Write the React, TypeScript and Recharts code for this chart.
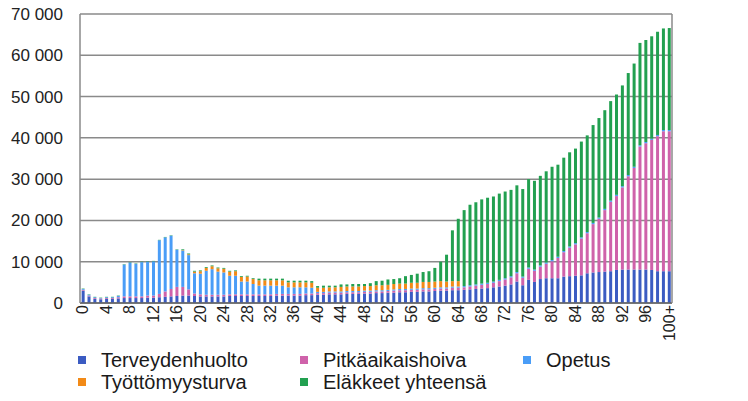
import React from "react";
import { Bar, BarChart, CartesianGrid, Legend, XAxis, YAxis } from "recharts";

// ikäryhmät 0–99 ja 100+
const ages: string[] = Array.from({ length: 100 }, (_, i) => String(i)).concat("100+");

const terveydenhuolto = [
  3000, 1600, 1000, 900, 1000, 1000, 1100, 1200, 1200, 1200,
  1200, 1300, 1300, 1400, 1500, 1600, 1700, 1800, 1800, 1700,
  1600, 1600, 1600, 1600, 1600, 1700, 1700, 1700, 1700, 1700,
  1700, 1700, 1700, 1800, 1800, 1800, 1800, 1800, 1900, 1900,
  2000, 2000, 2100, 2100, 2100, 2200, 2200, 2200, 2300, 2300,
  2400, 2400, 2500, 2500, 2600, 2600, 2700, 2700, 2800, 2800,
  2900, 3000, 3000, 3100, 3100, 3200, 3300, 3400, 3500, 3600,
  3800, 4000, 4200, 4500, 5200, 4300, 5600, 5100, 5800, 6000,
  6000, 6000, 6400, 6500, 6600, 6700, 7200, 7400, 7500, 7600,
  7700, 8000, 8100, 8100, 8100, 8100, 8100, 8000, 7700, 7700, 7700,
];

const pitkaaikaishoiva = [
  200, 200, 200, 200, 200, 200, 300, 400, 400, 400,
  400, 500, 500, 800, 1300, 1800, 2200, 2100, 1500, 600,
  500, 400, 400, 400, 400, 400, 400, 400, 400, 400,
  400, 400, 400, 400, 400, 400, 400, 400, 400, 400,
  400, 400, 400, 400, 400, 400, 400, 400, 400, 400,
  400, 400, 400, 500, 500, 500, 500, 500, 500, 500,
  500, 500, 500, 600, 600, 600, 700, 800, 900, 1000,
  1100, 1300, 1500, 1700, 2000, 1800, 2700, 2700, 3000, 3500,
  4100, 4900, 5900, 6900, 7600, 8900, 9700, 11700, 12900, 14900,
  16800, 17900, 19900, 22600, 24600, 29800, 30600, 31500, 32700, 33900, 33900,
];

const opetus = [
  200, 200, 200, 100, 200, 200, 300, 7700, 8200, 7900,
  8300, 8200, 8300, 13000, 13100, 12900, 9000, 8800, 8300, 4900,
  5000, 5800, 6200, 5600, 5400, 4500, 4500, 3100, 3100, 2500,
  2100, 2100, 2100, 2000, 2000, 1600, 1600, 1600, 1500, 1400,
  300, 300, 300, 300, 300, 300, 300, 300, 300, 300,
  300, 300, 300, 300, 300, 300, 300, 300, 300, 300,
  300, 300, 300, 300, 300, 300, 300, 300, 300, 300,
  300, 300, 300, 300, 300, 300, 300, 300, 300, 300,
  300, 300, 300, 300, 300, 300, 300, 300, 300, 300,
  300, 300, 300, 300, 300, 300, 300, 300, 300, 300, 300,
];

const tyottomyysturva = [
  0, 0, 0, 0, 0, 0, 0, 0, 0, 0,
  0, 0, 0, 0, 0, 0, 0, 100, 200, 400,
  600, 700, 700, 800, 900, 1000, 1100, 1100, 1200, 1200,
  1300, 1300, 1300, 1300, 1300, 1200, 1200, 1200, 1200, 1200,
  1000, 1000, 1000, 1000, 1100, 1100, 1100, 1100, 1100, 1100,
  1200, 1200, 1200, 1300, 1300, 1300, 1400, 1400, 1500, 1500,
  1500, 1500, 1400, 1300, 1300, 0, 0, 0, 0, 0,
  0, 0, 0, 0, 0, 0, 0, 0, 0, 0,
  0, 0, 0, 0, 0, 0, 0, 0, 0, 0,
  0, 0, 0, 0, 0, 0, 0, 0, 0, 0, 0,
];

const elakkeet = [
  100, 100, 100, 100, 100, 100, 100, 100, 100, 100,
  100, 100, 100, 100, 100, 100, 100, 200, 200, 200,
  200, 200, 200, 200, 200, 200, 200, 200, 200, 200,
  400, 400, 400, 400, 400, 400, 400, 400, 400, 400,
  400, 500, 400, 400, 600, 500, 600, 600, 500, 700,
  1000, 1100, 1300, 1200, 1300, 1800, 1900, 2200, 2400, 2600,
  3300, 4700, 6500, 12300, 15100, 18400, 19500, 19900, 20400, 20600,
  20600, 20900, 21000, 20900, 21000, 21200, 21400, 21500, 21700, 22100,
  22600, 22300, 22600, 22800, 22900, 23200, 23400, 23700, 24100, 23900,
  24100, 24300, 24400, 24700, 25000, 24800, 24700, 24800, 25000, 24600, 24700,
];

const yTicks = [0, 10000, 20000, 30000, 40000, 50000, 60000, 70000];

const series = [
  { key: "terveydenhuolto", name: "Terveydenhuolto", color: "#3b5bc2" },
  { key: "pitkaaikaishoiva", name: "Pitkäaikaishoiva", color: "#cf62aa" },
  { key: "opetus", name: "Opetus", color: "#4a9df7" },
  { key: "tyottomyysturva", name: "Työttömyysturva", color: "#f28a17" },
  { key: "elakkeet", name: "Eläkkeet yhteensä", color: "#22a050" },
];

const data = ages.map((age, i) => ({
  age,
  terveydenhuolto: terveydenhuolto[i],
  pitkaaikaishoiva: pitkaaikaishoiva[i],
  opetus: opetus[i],
  tyottomyysturva: tyottomyysturva[i],
  elakkeet: elakkeet[i],
}));

const FONT = "'Liberation Sans', Arial, sans-serif";

const formatThousands = (v: number) => String(v).replace(/\B(?=(\d{3})+(?!\d))/g, " ");

const XTick = ({ x, y, payload }: any) => (
  <text
    x={x}
    y={y - 6}
    transform={`rotate(-90 ${x} ${y - 6})`}
    textAnchor="end"
    dominantBaseline="central"
    fontSize={16}
    fontFamily={FONT}
    fill="#222"
  >
    {payload.value}
  </text>
);

// selite kahdessa rivissä, kolme saraketta
const legendPos = [
  { left: 78, top: 8 },
  { left: 300, top: 8 },
  { left: 523, top: 8 },
  { left: 78, top: 30 },
  { left: 300, top: 30 },
];

const LegendContent = () => (
  <div style={{ position: "relative", width: 748, height: 53, fontFamily: FONT }}>
    {series.map((s, i) => (
      <div
        key={s.key}
        style={{
          position: "absolute",
          left: legendPos[i].left,
          top: legendPos[i].top,
          height: 8,
          display: "flex",
          alignItems: "center",
          whiteSpace: "nowrap",
        }}
      >
        <span style={{ width: 8, height: 8, background: s.color, display: "inline-block" }} />
        <span style={{ marginLeft: 15, fontSize: 20, color: "#1a1a1a", lineHeight: "8px" }}>{s.name}</span>
      </div>
    ))}
  </div>
);

export default function App() {
  return (
    <div style={{ position: "absolute", left: 0, top: 0, width: 748, height: 401, background: "#fff" }}>
      <BarChart
        width={748}
        height={401}
        data={data}
        margin={{ top: 14, right: 0, left: 0, bottom: 0 }}
        barCategoryGap="28%"
      >
        <CartesianGrid yAxisId="left" vertical={false} stroke="#8a8a8a" strokeWidth={1.5} />
        <XAxis
          dataKey="age"
          interval={3}
          tickLine={false}
          axisLine={{ stroke: "#666", strokeWidth: 1.5 }}
          height={45}
          tick={<XTick />}
        />
        <YAxis
          yAxisId="left"
          width={80}
          domain={[0, 70000]}
          ticks={yTicks}
          tickFormatter={formatThousands}
          tickLine={false}
          tickMargin={11}
          axisLine={{ stroke: "#8a8a8a", strokeWidth: 1.5 }}
          tick={{ fontSize: 17, fill: "#222", fontFamily: FONT }}
        />
        <YAxis
          yAxisId="right"
          orientation="right"
          width={76}
          domain={[0, 70000]}
          ticks={yTicks}
          tickFormatter={formatThousands}
          tickLine={false}
          tickMargin={2}
          axisLine={{ stroke: "#8a8a8a", strokeWidth: 1.5 }}
          tick={{ fontSize: 17, fill: "#222", fontFamily: FONT, textAnchor: "start" }}
        />
        <Legend
          verticalAlign="bottom"
          height={53}
          content={<LegendContent />}
          wrapperStyle={{ left: 0, width: 748, bottom: 0 }}
        />
        {series.map((s) => (
          <Bar
            key={s.key}
            yAxisId="left"
            dataKey={s.key}
            name={s.name}
            stackId="a"
            fill={s.color}
            isAnimationActive={false}
          />
        ))}
      </BarChart>
    </div>
  );
}
